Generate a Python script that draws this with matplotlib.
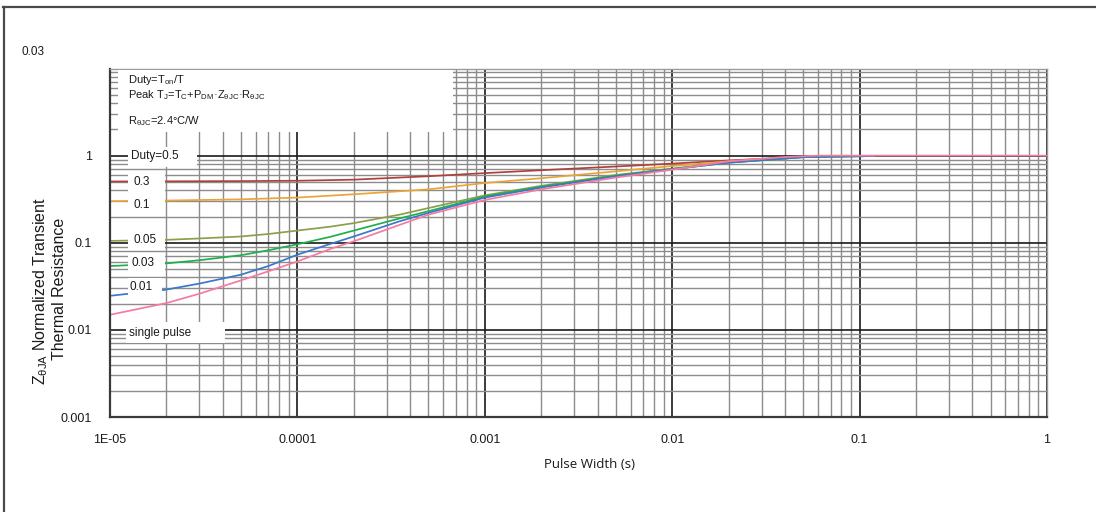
import matplotlib
matplotlib.use("Agg")
import matplotlib.pyplot as plt
from matplotlib.patches import Rectangle
from matplotlib.lines import Line2D
from matplotlib.ticker import LogLocator, FixedLocator, NullFormatter

plt.rcParams['font.family'] = ['Liberation Sans', 'DejaVu Sans']
plt.rcParams['mathtext.fontset'] = 'custom'
plt.rcParams['mathtext.rm'] = 'Liberation Sans'
plt.rcParams['mathtext.it'] = 'Liberation Sans'
plt.rcParams['mathtext.bf'] = 'Liberation Sans:bold'

# ---------------- data ----------------
x_ticks = [1e-5, 1e-4, 1e-3, 1e-2, 1e-1, 1]
x_tick_labels = ['1E-05', '0.0001', '0.001', '0.01', '0.1', '1']
y_ticks = [0.001, 0.01, 0.1, 1]
y_tick_labels = ['0.001', '0.01', '0.1', '1']

x_d05 = [1e-5, 2e-5, 5e-5, 1e-4, 2e-4, 5e-4, 1e-3, 2e-3, 5e-3, 1e-2, 2e-2, 5e-2, 6e-2]
y_d05 = [0.505, 0.507, 0.51, 0.515, 0.53, 0.58, 0.63, 0.68, 0.75, 0.81, 0.88, 0.97, 0.98]

x_d03 = [1e-5, 2e-5, 5e-5, 1e-4, 2e-4, 5e-4, 1e-3, 2e-3, 5e-3, 1e-2, 2e-2, 5e-2, 7e-2]
y_d03 = [0.30, 0.305, 0.315, 0.33, 0.36, 0.41, 0.485, 0.55, 0.66, 0.76, 0.86, 0.97, 0.99]

x_d01 = [1e-5, 2e-5, 3e-5, 5e-5, 7e-5, 1e-4, 1.5e-4, 2e-4, 3.5e-4, 5e-4, 1e-3, 2e-3, 5e-3, 1e-2, 2e-2, 5e-2, 0.12]
y_d01 = [0.105, 0.108, 0.112, 0.118, 0.126, 0.138, 0.153, 0.168, 0.21, 0.25, 0.35, 0.45, 0.60, 0.71, 0.84, 0.96, 0.99]

x_d005 = [1e-5, 2e-5, 3e-5, 5e-5, 7e-5, 1e-4, 1.5e-4, 2e-4, 3.5e-4, 5e-4, 1e-3, 2e-3, 5e-3, 1e-2, 2e-2, 5e-2, 0.12]
y_d005 = [0.054, 0.058, 0.063, 0.072, 0.082, 0.096, 0.117, 0.138, 0.19, 0.23, 0.34, 0.44, 0.59, 0.70, 0.83, 0.96, 0.99]

x_d003 = [1e-5, 2e-5, 3e-5, 5e-5, 7e-5, 1e-4, 1.5e-4, 2e-4, 3.5e-4, 5e-4, 1e-3, 2e-3, 5e-3, 1e-2, 2e-2, 5e-2, 0.12]
y_d003 = [0.0246, 0.029, 0.034, 0.043, 0.054, 0.073, 0.097, 0.118, 0.176, 0.22, 0.33, 0.43, 0.58, 0.70, 0.83, 0.96, 0.99]

x_single = [1e-5, 2e-5, 3e-5, 5e-5, 7e-5, 1e-4, 1.5e-4, 2e-4, 3.5e-4, 5e-4, 1e-3, 2e-3, 5e-3, 1e-2, 2e-2, 4e-2, 6e-2, 1]
y_single = [0.0149, 0.0203, 0.026, 0.037, 0.047, 0.061, 0.085, 0.104, 0.16, 0.21, 0.31, 0.41, 0.56, 0.69, 0.86, 0.965, 1.0, 1.0]

series = [
    (x_d05, y_d05, '#b0403a'),
    (x_d03, y_d03, '#eaa53a'),
    (x_d01, y_d01, '#8aa04a'),
    (x_d005, y_d005, '#1fb04c'),
    (x_d003, y_d003, '#3a78c8'),
    (x_single, y_single, '#f77aa2'),
]

curve_labels = ['Duty=0.5', '0.3', '0.1', '0.05', '0.03', '0.01', 'single pulse']

# ---------------- figure ----------------
W, H = 1096, 512
fig = plt.figure(figsize=(W / 100, H / 100), dpi=100)
fig.patch.set_facecolor('white')

def fx(px):
    return px / W

def fy(py):
    return 1 - py / H

ax_l, ax_r, ax_t, ax_b = 110, 1047, 68.5, 417
ax = fig.add_axes([fx(ax_l), fy(ax_b), (ax_r - ax_l) / W, (ax_b - ax_t) / H])
ax.set_xscale('log')
ax.set_yscale('log')
ax.set_xlim(1e-5, 1)
ax.set_ylim(0.001, 10)

ax.xaxis.set_major_locator(FixedLocator(x_ticks))
ax.set_xticklabels(x_tick_labels)
ax.yaxis.set_major_locator(FixedLocator(y_ticks + [10]))
ax.set_yticklabels(y_tick_labels + [''])
ax.xaxis.set_minor_locator(LogLocator(base=10, subs=range(2, 10), numticks=20))
ax.yaxis.set_minor_locator(LogLocator(base=10, subs=range(2, 10), numticks=20))
ax.xaxis.set_minor_formatter(NullFormatter())
ax.yaxis.set_minor_formatter(NullFormatter())
ax.tick_params(which='both', length=0)
ax.tick_params(axis='x', pad=12, labelsize=9, labelcolor='#1a1a1a')
ax.tick_params(axis='y', pad=13, labelsize=9, labelcolor='#1a1a1a')

ax.grid(which='major', color='#1a1a1a', lw=1.2)
ax.grid(which='minor', color='#8c8c8c', lw=1.0)
ax.set_axisbelow(True)

for side in ['left', 'bottom']:
    ax.spines[side].set_color('#3a3a3a')
    ax.spines[side].set_linewidth(1.6)
for side in ['top', 'right']:
    ax.spines[side].set_color('#9a9a9a')
    ax.spines[side].set_linewidth(1.0)

for xs, ys, c in series:
    ax.plot(xs, ys, color=c, lw=1.25, zorder=2, solid_capstyle='butt')

# white label boxes (pixel rectangles: left, top, right, bottom)
boxes = [
    (118, 70, 453, 132),
    (128, 147, 197, 167),
    (128, 171, 165, 193),
    (128, 194, 165, 216),
    (128, 230, 165, 250),
    (128, 253, 165, 274),
    (128, 278, 162, 298),
    (126, 322, 225, 343),
]
for (l, t, r, b) in boxes:
    rect = Rectangle((fx(l), fy(b)), (r - l) / W, (b - t) / H,
                     transform=fig.transFigure, facecolor='white',
                     edgecolor='none', zorder=3, clip_on=False)
    ax.add_patch(rect)

label_pos = [(131, 156), (133, 182), (133, 205), (133, 240), (131, 263), (129, 287), (129, 333)]
for txt, (px, py) in zip(curve_labels, label_pos):
    fig.text(fx(px), fy(py), txt, ha='left', va='center', fontsize=8.5,
             color='#1a1a1a', zorder=5)

# info text
fig.text(fx(128), fy(80), r'Duty=T$_{\mathrm{on}}$/T', ha='left', va='center',
         fontsize=8, color='#1a1a1a')
fig.text(fx(128), fy(95),
         r'Peak T$_{\mathrm{J}}$=T$_{\mathrm{C}}$+P$_{\mathrm{DM}}$·Z$_{\mathrm{θJC}}$·R$_{\mathrm{θJC}}$',
         ha='left', va='center', fontsize=8, color='#1a1a1a')
fig.text(fx(128), fy(121), r'R$_{\mathrm{θJC}}$=2.4°C/W', ha='left', va='center',
         fontsize=8, color='#1a1a1a')

# stray label at top-left
fig.text(fx(22), fy(52), '0.03', ha='left', va='center', fontsize=8.5, color='#1a1a1a')

# y axis title (two lines)
fig.text(fx(41), fy(291), r'Z$_{\mathrm{θJA}}$ Normalized Transient', rotation=90,
         ha='center', va='center', fontsize=11.5, color='#1a1a1a')
fig.text(fx(60), fy(289), 'Thermal Resistance', rotation=90,
         ha='center', va='center', fontsize=11.5, color='#1a1a1a')

# x axis title
fig.text(fx(589), fy(465), 'Pulse Width (s)', ha='center', va='center',
         fontsize=9.5, color='#1a1a1a', family=['Open Sans', 'DejaVu Sans'])

# outer frame lines
fig.add_artist(Line2D([fx(3), 1.0], [fy(6.5), fy(6.5)], transform=fig.transFigure,
                      color='#4a4a4a', lw=1.6))
fig.add_artist(Line2D([fx(4), fx(4)], [fy(6.5), 0.0], transform=fig.transFigure,
                      color='#4a4a4a', lw=1.6))

fig.savefig('out.png', dpi=100, facecolor='white')
